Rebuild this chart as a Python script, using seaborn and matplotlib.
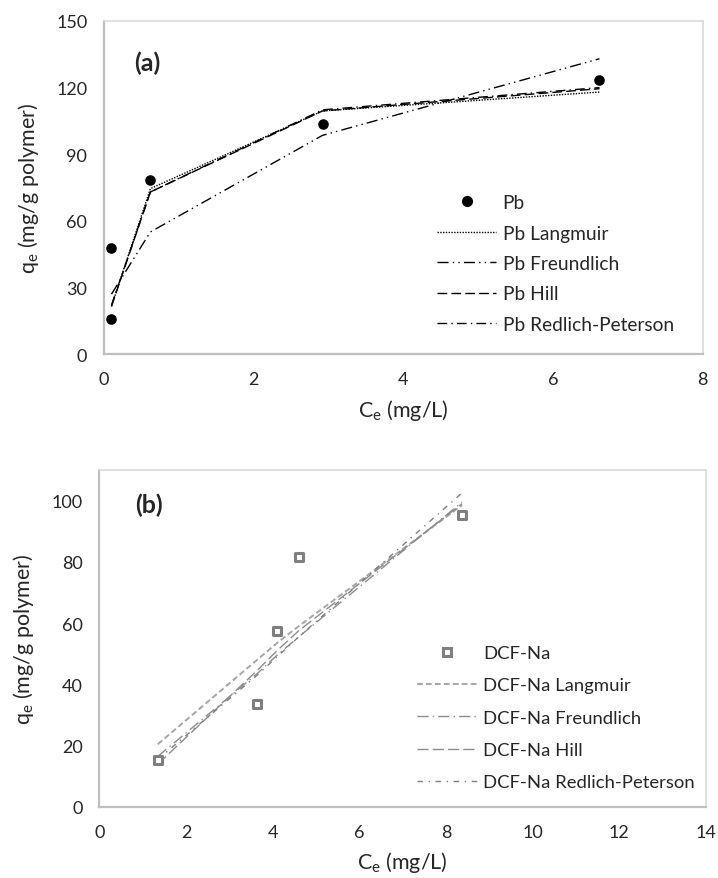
"""Isotherm fits for Pb and DCF-Na (two stacked panels)."""

import matplotlib

matplotlib.use("Agg")
import matplotlib.pyplot as plt
from matplotlib.lines import Line2D
import seaborn as sns

# ---- panel (a): Pb ----
PB_CE = [0.09, 0.10, 0.62, 2.92, 6.62]
PB_QE = [48.0, 16.0, 78.5, 103.5, 123.5]
PB_FIT_CE = [0.10, 0.62, 2.92, 6.62]
PB_LANGMUIR = [21.5, 74.5, 109.5, 118.0]
PB_FREUNDLICH = [27.0, 55.0, 98.5, 133.0]
PB_HILL = [21.5, 73.0, 109.5, 119.5]
PB_RP = [22.0, 73.0, 110.0, 120.0]

# ---- panel (b): DCF-Na ----
DCF_CE = [1.35, 3.64, 4.10, 4.60, 8.37]
DCF_QE = [15.3, 33.5, 57.5, 81.6, 95.3]
DCF_LANGMUIR = [20.5, 48.0, 53.5, 59.0, 98.5]
DCF_FREUNDLICH = [16.5, 43.5, 49.5, 55.5, 99.5]
DCF_HILL = [14.0, 44.5, 51.0, 57.5, 99.0]
DCF_RP = [15.5, 43.0, 49.0, 55.5, 102.5]

FONT = "Lato"
sns.set_style("white")
plt.rcParams["font.family"] = [FONT, "DejaVu Sans"]
plt.rcParams["mathtext.fontset"] = "custom"
plt.rcParams["mathtext.rm"] = FONT

TICK_FS = 13
LABEL_FS = 15.5
AXIS_GREY = "#bfbfbf"
BORDER_GREY = "#d9d9d9"


def style_axes(ax, xlim, xticks, ylim, yticks):
    ax.set_xlim(*xlim)
    ax.set_ylim(*ylim)
    ax.set_xticks(xticks)
    ax.set_yticks(yticks)
    ax.tick_params(length=0, labelsize=TICK_FS, pad=12)
    for side in ("left", "bottom"):
        ax.spines[side].set_color(AXIS_GREY)
        ax.spines[side].set_linewidth(1.6)
    for side in ("top", "right"):
        ax.spines[side].set_color(BORDER_GREY)
        ax.spines[side].set_linewidth(1.2)
    ax.set_xlabel(r"C$\mathregular{_e}$ (mg/L)", fontsize=LABEL_FS, labelpad=7)
    ax.set_ylabel(r"q$\mathregular{_e}$ (mg/g polymer)", fontsize=LABEL_FS, labelpad=11)
    ax.grid(False)


fig = plt.figure(figsize=(7.18, 8.79), dpi=100)
ax_a = fig.add_axes([0.1448, 0.596, 0.834, 0.379])
ax_b = fig.add_axes([0.1383, 0.0808, 0.845, 0.3834])

# panel (a)
a_lines = [
    (PB_LANGMUIR, "Pb Langmuir", (0, (1, 1))),
    (PB_FREUNDLICH, "Pb Freundlich", (0, (8, 3, 1, 3, 1, 3))),
    (PB_HILL, "Pb Hill", (0, (7, 3))),
    (PB_RP, "Pb Redlich-Peterson", (0, (7, 3, 1, 3))),
]
sns.scatterplot(x=PB_CE, y=PB_QE, ax=ax_a, color="black", s=58,
                edgecolor="black", linewidth=0, zorder=3)
handles_a = [Line2D([], [], marker="o", ms=7, color="black", ls="none")]
labels_a = ["Pb"]
for vals, lab, ls in a_lines:
    sns.lineplot(x=PB_FIT_CE, y=vals, ax=ax_a, color="black", lw=1.0,
                 linestyle=ls, sort=False, estimator=None)
    handles_a.append(Line2D([], [], color="black", lw=1.0, linestyle=ls))
    labels_a.append(lab)
style_axes(ax_a, (0, 8), range(0, 9, 2), (0, 150), range(0, 151, 30))
ax_a.legend(handles_a, labels_a, loc="upper left", bbox_to_anchor=(0.556, 0.48),
            frameon=False, fontsize=13.8, handlelength=3.1, handletextpad=0.33,
            labelspacing=0.7, borderpad=0, borderaxespad=0)
ax_a.text(0.05, 0.877, "(a)", transform=ax_a.transAxes, fontsize=18,
          fontweight="bold", va="center", ha="left")

# panel (b)
b_lines = [
    (DCF_LANGMUIR, "DCF-Na Langmuir", "#a6a6a6", 1.4, (0, (3, 1.6))),
    (DCF_FREUNDLICH, "DCF-Na Freundlich", "#8c8c8c", 1.0, (0, (8, 3, 1, 3))),
    (DCF_HILL, "DCF-Na Hill", "#8c8c8c", 1.0, (0, (8, 3))),
    (DCF_RP, "DCF-Na Redlich-Peterson", "#7f7f7f", 1.0, (0, (4, 4, 1, 4))),
]
sns.scatterplot(x=DCF_CE, y=DCF_QE, ax=ax_b, marker="s", s=38, color="white",
                edgecolor="#7f7f7f", linewidth=2.2, zorder=3)
handles_b = [Line2D([], [], marker="s", ms=5.5, mfc="white", mec="#7f7f7f",
                    mew=2.2, ls="none")]
labels_b = ["DCF-Na"]
for vals, lab, col, lw, ls in b_lines:
    sns.lineplot(x=DCF_CE, y=vals, ax=ax_b, color=col, lw=lw,
                 linestyle=ls, sort=False, estimator=None)
    handles_b.append(Line2D([], [], color=col, lw=lw, linestyle=ls))
    labels_b.append(lab)
style_axes(ax_b, (0, 14), range(0, 15, 2), (0, 110), range(0, 101, 20))
ax_b.legend(handles_b, labels_b, loc="upper left", bbox_to_anchor=(0.524, 0.48),
            frameon=False, fontsize=13.3, handlelength=3.25, handletextpad=0.33,
            labelspacing=0.88, borderpad=0, borderaxespad=0)
ax_b.text(0.059, 0.899, "(b)", transform=ax_b.transAxes, fontsize=18,
          fontweight="bold", va="center", ha="left")

fig.savefig("out.png", dpi=100)
plt.close(fig)
